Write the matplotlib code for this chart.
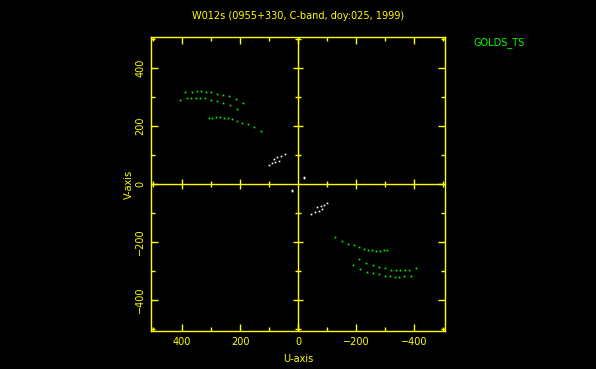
import matplotlib
matplotlib.use("Agg")
import matplotlib.pyplot as plt
import numpy as np

# UV tracks (upper half, conjugates plotted too)
arc1_u = [389, 365, 347, 333, 316, 299, 278, 259, 237, 213, 189]
arc1_v = [316, 319, 321, 321, 318, 316, 311, 308, 302, 293, 280]
arc2_u = [407, 382, 368, 352, 337, 320, 299, 279, 258, 233, 209]
arc2_v = [291, 295, 297, 297, 297, 295, 291, 286, 279, 271, 260]
arc3_u = [306, 296, 282, 269, 255, 241, 228, 209, 192, 171, 152, 129]
arc3_v = [228, 229, 231, 230, 229, 226, 224, 218, 211, 206, 195, 184]
white_u = [101, 91, 83, 78, 72, 67, 58, 46, -19, -22]
white_v = [64, 71, 86, 76, 92, 81, 98, 102, 23, 19]

title = "W012s (0955+330, C-band, doy:025, 1999)"
source_label = "GOLDS_TS"
lim = 507
major = [-400, -200, 0, 200, 400]
minor = [-500, -300, -100, 100, 300, 500]

yel = "#ffff00"
grn = "#00ff00"

fig = plt.figure(figsize=(5.96, 3.69), dpi=100, facecolor="black")
ax = fig.add_axes([151 / 596, 1 - 331 / 369, 294 / 596, 294 / 369])
ax.set_facecolor("black")

ms = 1.2
for u, v in [(arc1_u, arc1_v), (arc2_u, arc2_v), (arc3_u, arc3_v)]:
    u = np.array(u); v = np.array(v)
    ax.plot(u, v, "s", color=grn, ms=ms, mew=0)
    ax.plot(-u, -v, "s", color=grn, ms=ms, mew=0)
wu = np.array(white_u); wv = np.array(white_v)
ax.plot(wu, wv, "s", color="white", ms=ms, mew=0)
ax.plot(-wu, -wv, "s", color="white", ms=ms, mew=0)

ax.set_xlim(lim, -lim)
ax.set_ylim(-lim, lim)

# zero axes with cross ticks
ax.axhline(0, color=yel, lw=1)
ax.axvline(0, color=yel, lw=1)
mj = [t for t in major if t != 0]
ax.plot(mj, [0] * len(mj), ls="none", marker="|", ms=7, color=yel, mew=1)
ax.plot(minor, [0] * len(minor), ls="none", marker="|", ms=4.3, color=yel, mew=1)
ax.plot([0] * len(mj), mj, ls="none", marker="_", ms=7, color=yel, mew=1)
ax.plot([0] * len(minor), minor, ls="none", marker="_", ms=4.3, color=yel, mew=1)

for s in ax.spines.values():
    s.set_color(yel)
    s.set_linewidth(1)

ax.set_xticks(major)
ax.set_yticks(major)
ax.set_xticks(minor, minor=True)
ax.set_yticks(minor, minor=True)
ax.set_xticklabels([str(t).replace("-", "\u2212") for t in major])
ax.set_yticklabels([str(t).replace("-", "\u2212") for t in major], rotation=90, va="center")
ax.tick_params(which="both", direction="in", top=True, right=True, colors=yel,
               labelsize=7, width=1)
ax.tick_params(which="major", length=5, pad=4)
ax.tick_params(which="minor", length=3)

ax.set_xlabel("U-axis", color=yel, fontsize=7, labelpad=5)
ax.set_ylabel("V-axis", color=yel, fontsize=7, labelpad=1)

fig.text(298 / 596, 1 - 16 / 369, title, color=yel, fontsize=7, ha="center", va="center")
fig.text(474 / 596, 1 - 43 / 369, source_label, color=grn, fontsize=7, ha="left", va="center")

fig.savefig("out.png", dpi=100, facecolor="black")
